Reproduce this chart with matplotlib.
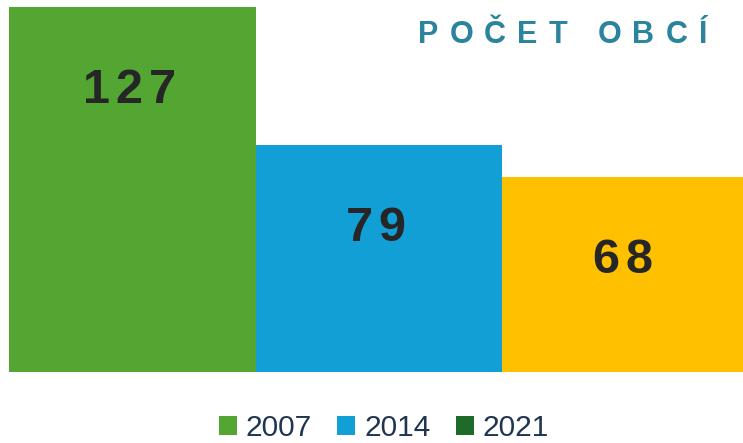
import numpy as np
import matplotlib.pyplot as plt
from matplotlib.patches import Patch
from matplotlib.font_manager import FontProperties
from matplotlib.transforms import offset_copy

years = ["2007", "2014", "2021"]
counts = [127, 79, 68]
bar_colors = ["#53A632", "#129FD6", "#FFC000"]
legend_colors = ["#53A632", "#129FD6", "#1E6A28"]
title = "POČET OBCÍ"

plt.rcParams['font.family'] = ['Liberation Sans', 'DejaVu Sans']

W, H = 743, 443
fig = plt.figure(figsize=(W / 100, H / 100), dpi=100)
ax = fig.add_axes([9 / W, 1 - 372 / H, 1 - 9 / W, 372 / H])

x = np.arange(len(counts))
ax.bar(x, counts, width=1.0, color=bar_colors)
ax.set_xlim(-0.5, -0.5 + (W - 9) / 246.5)
ax.set_ylim(0, 127 * 372 / 365)
ax.axis('off')

renderer = fig.canvas.get_renderer()


def spaced_text(xx, yy, s, gap, size, color, transform, ha='center', va='center'):
    # matplotlib has no letter-spacing, so place glyphs one by one
    # (gap is also added after the last glyph, like css letter-spacing)
    fp = FontProperties(family=['Liberation Sans', 'DejaVu Sans'], size=size, weight='bold')
    ref = renderer.get_text_width_height_descent("H", fp, ismath=False)[0]
    advs = [renderer.get_text_width_height_descent(c + "H", fp, ismath=False)[0] - ref for c in s]
    total = sum(advs) + gap * len(s)
    pos = -total / 2 if ha == 'center' else -total
    for c, a in zip(s, advs):
        tr = offset_copy(transform, fig=fig, x=pos, y=0, units='dots')
        fig.text(xx, yy, c, transform=tr, fontproperties=fp, color=color,
                 ha='left', va=va)
        pos += a + gap


for xi, v in zip(x, counts):
    tr = offset_copy(ax.transData, fig=fig, x=0, y=-96, units='dots')
    spaced_text(xi, v, str(v), 6, 35, "#262626", tr, va='baseline')

spaced_text(718 / W, 1 - 35 / H, title, 11, 22, "#2B849E", fig.transFigure, ha='right')

handles = [Patch(facecolor=c, edgecolor='none', label=y) for c, y in zip(legend_colors, years)]
leg = fig.legend(handles=handles, loc='center', bbox_to_anchor=(384 / W, 1 - 428 / H),
                 ncol=3, frameon=False, fontsize=21.5, handlelength=0.6, handleheight=0.6,
                 handletextpad=0.3, columnspacing=0.85, borderpad=0, labelcolor="#203550")

fig.savefig("out.png", dpi=100)
